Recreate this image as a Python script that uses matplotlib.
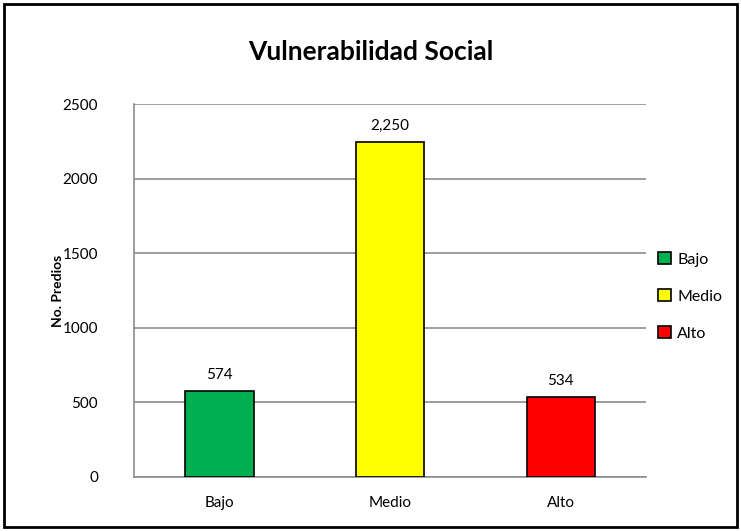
import matplotlib
matplotlib.use("Agg")
import matplotlib.pyplot as plt
from matplotlib.patches import Rectangle

# datos
categorias = ["Bajo", "Medio", "Alto"]
predios = [574, 2250, 534]
colores = ["#00B050", "#FFFF00", "#FF0000"]
y_ticks = [0, 500, 1000, 1500, 2000, 2500]

plt.rcParams['font.family'] = ['Lato', 'DejaVu Sans']

fig = plt.figure(figsize=(7.41, 5.31), dpi=100)
ax = fig.add_axes([0.181, 0.1017, 0.691, 0.702])

x = range(len(categorias))
barras = ax.bar(x, predios, width=0.40, color=colores, edgecolor="black",
                linewidth=1.2, label=categorias, zorder=3)

for b, v in zip(barras, predios):
    ax.text(b.get_x() + b.get_width() / 2, v + 60, f"{v:,}",
            ha="center", va="bottom", fontsize=11)

ax.set_xlim(-0.5, 2.5)
ax.set_ylim(0, 2500)
ax.set_yticks(y_ticks)
ax.set_xticks(list(x))
ax.set_xticklabels(categorias)
ax.tick_params(axis="both", length=0, labelsize=11)
ax.tick_params(axis="x", pad=14)
ax.tick_params(axis="y", pad=26)
ax.grid(axis="y", color="#8c8c8c", linewidth=1.2, zorder=0)
for s in ["top", "right"]:
    ax.spines[s].set_visible(False)
for s in ["left", "bottom"]:
    ax.spines[s].set_color("#8c8c8c")
    ax.spines[s].set_linewidth(1.2)

ax.set_ylabel("No. Predios", fontsize=10, fontweight="bold")
ax.yaxis.set_label_coords(-0.136, 0.5)
fig.suptitle("Vulnerabilidad Social", fontsize=19, fontweight="bold", y=0.925)

ax.legend(handles=barras, labels=categorias, loc="center left",
          bbox_to_anchor=(0.995, 0.485), frameon=False, fontsize=11.5,
          handlelength=0.8, handleheight=0.8, handletextpad=0.4,
          labelspacing=1.4)

fig.add_artist(Rectangle((0.006, 0.008), 0.988, 0.984, transform=fig.transFigure,
                         fill=False, edgecolor="black", linewidth=2))

fig.savefig("out.png", dpi=100)
